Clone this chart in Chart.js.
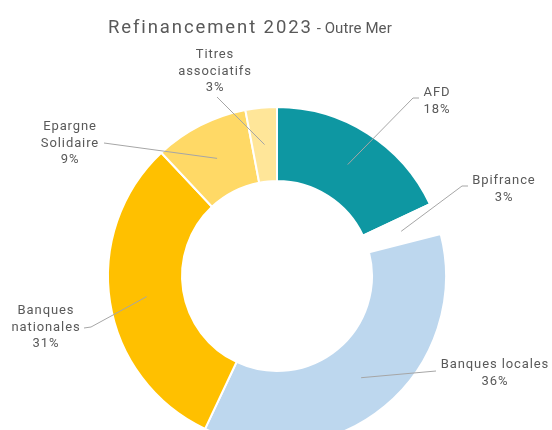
<!DOCTYPE html>
<html>
<head>
<meta charset="utf-8">
<script src="https://cdn.jsdelivr.net/npm/chart.js@4/dist/chart.umd.min.js"></script>
<style>
  html, body { margin: 0; padding: 0; background: #fff; }
  #wrap { width: 552px; height: 430px; position: relative; overflow: hidden; }
</style>
</head>
<body>
<div id="wrap"><canvas id="chart" width="552" height="430"></canvas></div>
<script>
// data
const categories = ['AFD', 'Bpifrance', 'Banques locales', 'Banques nationales', 'Epargne Solidaire', 'Titres associatifs'];
const shares = [18, 3, 36, 31, 9, 3];
const sliceColors = ['#0E97A2', '#FFFFFF', '#BDD7EE', '#FFC000', '#FFD966', '#FFE699'];

const titleMain = 'Refinancement 2023';
const titleSub = ' - Outre Mer';

// label placement (text centre x, first line y, leader start + optional elbow)
const labelLayout = [
  { x: 437, y: 93,  split: false, pts: [[419, 98], [413, 98]] },
  { x: 504, y: 181, split: false, pts: [[468, 186], [462, 186]] },
  { x: 495, y: 365, split: false, pts: [[436, 371]] },
  { x: 46,  y: 311, split: true,  pts: [[84, 328], [91, 327]] },
  { x: 70,  y: 127, split: true,  pts: [[104, 143]] },
  { x: 215, y: 55,  split: true,  pts: [[217, 97]] }
];

const textGrey = '#595959';

// title drawn with two sizes like the original
const titlePlugin = {
  id: 'mixedTitle',
  afterDraw(chart) {
    const ctx = chart.ctx;
    ctx.save();
    ctx.fillStyle = textGrey;
    ctx.textBaseline = 'alphabetic';
    ctx.textAlign = 'left';
    ctx.letterSpacing = '1.9px';
    ctx.font = '18.5px Roboto';
    ctx.fillText(titleMain, 108, 33);
    const w = ctx.measureText(titleMain).width;
    ctx.letterSpacing = '0.1px';
    ctx.font = '15px Roboto';
    ctx.fillText(titleSub, 108 + w, 33);
    ctx.restore();
  }
};

// outside labels with leader lines
const leaderPlugin = {
  id: 'leaders',
  afterDatasetsDraw(chart) {
    const ctx = chart.ctx;
    const arcs = chart.getDatasetMeta(0).data;
    ctx.save();
    arcs.forEach((arc, i) => {
      const lay = labelLayout[i];
      const anchor = arc.getCenterPoint();
      ctx.strokeStyle = '#A6A6A6';
      ctx.lineWidth = 1;
      ctx.beginPath();
      ctx.moveTo(lay.pts[0][0], lay.pts[0][1]);
      for (let k = 1; k < lay.pts.length; k++) ctx.lineTo(lay.pts[k][0], lay.pts[k][1]);
      ctx.lineTo(anchor.x, anchor.y);
      ctx.stroke();

      const lines = lay.split ? categories[i].split(' ') : [categories[i]];
      lines.push(shares[i] + '%');
      ctx.fillStyle = textGrey;
      ctx.font = '13px Roboto';
      ctx.letterSpacing = '0.9px';
      ctx.textAlign = 'center';
      ctx.textBaseline = 'middle';
      lines.forEach((t, j) => ctx.fillText(t, lay.x, lay.y + j * 16.5));
    });
    ctx.restore();
  }
};

new Chart(document.getElementById('chart'), {
  type: 'doughnut',
  data: {
    labels: categories,
    datasets: [{
      data: shares,
      backgroundColor: sliceColors,
      borderColor: '#FFFFFF',
      borderWidth: 2,
      clip: false
    }]
  },
  options: {
    responsive: false,
    animation: false,
    radius: 169,
    cutout: 86,
    layout: { padding: { top: 122, bottom: 0, left: 108, right: 106 } },
    plugins: {
      legend: { display: false },
      tooltip: { enabled: false },
      title: { display: false }
    }
  },
  plugins: [titlePlugin, leaderPlugin]
});
</script>
</body>
</html>
